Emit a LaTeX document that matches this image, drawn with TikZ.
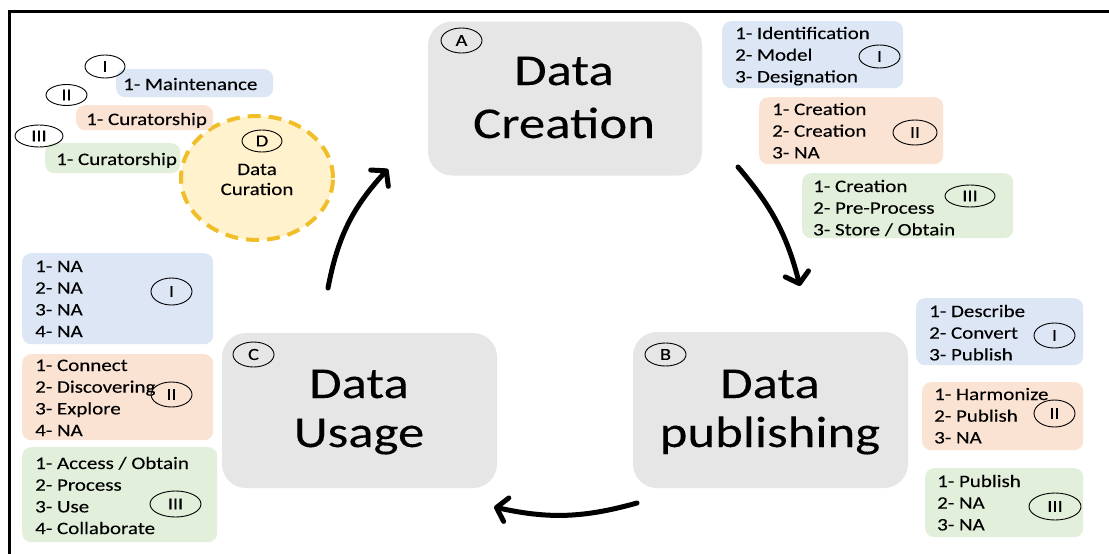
\documentclass[tikz,border=0pt]{standalone}
\usepackage{fontspec}
\setmainfont{Carlito}[FakeStretch=1.2, FakeBold=0.15]
\usetikzlibrary{shapes.geometric,arrows.meta}

\definecolor{stagegray}{HTML}{E6E6E6}
\definecolor{lblue}{HTML}{DCE6F4}
\definecolor{lsalmon}{HTML}{FBE3D4}
\definecolor{lgreen}{HTML}{E2EFDA}
\definecolor{curfill}{HTML}{FFF2CC}
\definecolor{curline}{HTML}{F0BE28}

% left-aligned list, baseline = first line
\newcommand\steplist[1]{\begin{tabular}[t]{@{}l@{}}#1\end{tabular}}
\newcommand\stagetitle[1]{\begin{tabular}[t]{@{}c@{}}#1\end{tabular}}

\tikzset{
  stage/.style={fill=stagegray, rounded corners=24pt, draw=none, inner sep=0pt},
  stagetext/.style={anchor=base, inner sep=0pt, font=\fontsize{44}{#1}\selectfont},
  bluebox/.style={fill=lblue, rounded corners=9pt, inner sep=0pt, anchor=north west},
  salmonbox/.style={fill=lsalmon, rounded corners=9pt, inner sep=0pt, anchor=north west},
  greenbox/.style={fill=lgreen, rounded corners=9pt, inner sep=0pt, anchor=north west},
  listtext/.style={anchor=base west, inner sep=0pt, font=\fontsize{17.5}{21.7}\selectfont},
  tag/.style={ellipse, draw=black, line width=0.9pt, inner sep=0pt,
    font=\fontsize{17}{17}\selectfont},
  cycle arrow/.style={line width=5pt, line cap=round,
    -{Straight Barb[length=10pt, width=24pt, round]}},
}

\begin{document}
\begin{tikzpicture}[x=1pt, y=-1pt]
\useasboundingbox[fill=white] (0,0) rectangle (1109,554);

% frame edges
\draw[line width=3pt] (9,554) -- (9,11) -- (1109,11);

% ---------- stages ----------
\node[stage, minimum width=274pt, minimum height=154pt] (create) at (565,98.5) {};
\node[stagetext=53] (createT) at (564,85) {\stagetitle{Data\\Creation}};
\node[tag, minimum width=41pt, minimum height=25pt] (tagA) at (461.5,40.5) {A};

\node[stage, minimum width=275pt, minimum height=156pt] (publish) at (770.5,410) {};
\node[stagetext=49] (publishT) at (770,398) {\stagetitle{Data\\publishing}};
\node[tag, minimum width=41pt, minimum height=23pt] (tagB) at (665.5,354.5) {B};

\node[stage, minimum width=275pt, minimum height=155pt] (usage) at (359.5,410.5) {};
\node[stagetext=49] (usageT) at (359,398) {\stagetitle{Data\\Usage}};
\node[tag, minimum width=41pt, minimum height=25pt] (tagC) at (253.5,354.5) {C};

% ---------- curation ----------
\node[ellipse, fill=curfill, draw=curline, line width=4pt,
  dash pattern=on 13pt off 8pt, minimum width=152pt, minimum height=124pt,
  inner sep=0pt] (curation) at (257,178) {};
\node[anchor=base, inner sep=0pt, font=\fontsize{17.5}{20}\selectfont]
  (curationT) at (257,175) {\stagetitle{Data\\Curation}};
\node[tag, minimum width=40pt, minimum height=22pt] (tagD) at (262,141) {D};

% ---------- curation steps (top left) ----------
\node[bluebox, minimum width=157pt, minimum height=28pt] (dI) at (116,69) {};
\node[listtext] (dIt) at (123,90) {1- Maintenance};
\node[tag, minimum width=40pt, minimum height=23pt] (dIe) at (105,66.5) {I};

\node[salmonbox, minimum width=137pt, minimum height=25pt] (dII) at (76,105) {};
\node[listtext] (dIIt) at (86,125) {1- Curatorship};
\node[tag, minimum width=41pt, minimum height=21pt] (dIIe) at (66.5,95) {II};

\node[greenbox, minimum width=135pt, minimum height=30pt] (dIII) at (45,143) {};
\node[listtext] (dIIIt) at (56,165) {1- Curatorship};
\node[tag, minimum width=48pt, minimum height=22pt] (dIIIe) at (39,136) {III};

% ---------- creation steps (top right) ----------
\node[bluebox, minimum width=181pt, minimum height=67pt] (aI) at (722,21) {};
\node[listtext] (aIt) at (735,39) {\steplist{1- Identification\\2- Model\\3- Designation}};
\node[tag, minimum width=41pt, minimum height=23pt] (aIe) at (879.5,56.5) {I};

\node[salmonbox, minimum width=184pt, minimum height=67pt] (aII) at (759,97) {};
\node[listtext] (aIIt) at (772,115) {\steplist{1- Creation\\2- Creation\\3- NA}};
\node[tag, minimum width=44pt, minimum height=25pt] (aIIe) at (915,132.5) {II};

\node[greenbox, minimum width=211pt, minimum height=65pt] (aIII) at (802,173) {};
\node[listtext] (aIIIt) at (813,192) {\steplist{1- Creation\\2- Pre-Process\\3- Store / Obtain}};
\node[tag, minimum width=50pt, minimum height=22pt] (aIIIe) at (970,196) {III};

% ---------- publishing steps (bottom right) ----------
\node[bluebox, minimum width=167pt, minimum height=67pt] (bI) at (916,298) {};
\node[listtext] (bIt) at (929,317) {\steplist{1- Describe\\2- Convert\\3- Publish}};
\node[tag, minimum width=41pt, minimum height=25pt] (bIe) at (1054.5,335.5) {I};

\node[salmonbox, minimum width=161pt, minimum height=68pt] (bII) at (922,382) {};
\node[listtext] (bIIt) at (934,400) {\steplist{1- Harmonize\\2- Publish\\3- NA}};
\node[tag, minimum width=41pt, minimum height=27pt] (bIIe) at (1054.5,413.5) {II};

\node[greenbox, minimum width=158pt, minimum height=69pt] (bIII) at (925,468) {};
\node[listtext] (bIIIt) at (937,487) {\steplist{1- Publish\\2- NA\\3- NA}};
\node[tag, minimum width=52pt, minimum height=27pt] (bIIIe) at (1055,506.5) {III};

% ---------- usage steps (bottom left) ----------
\node[bluebox, minimum width=191pt, minimum height=91pt] (cI) at (22,253) {};
\node[listtext] (cIt) at (35,272) {\steplist{1- NA\\2- NA\\3- NA\\4- NA}};
\node[tag, minimum width=41pt, minimum height=27pt] (cIe) at (171.5,291.5) {I};

\node[salmonbox, minimum width=191pt, minimum height=86pt] (cII) at (22,354) {};
\node[listtext] (cIIt) at (35,371) {\steplist{1- Connect\\2- Discovering\\3- Explore\\4- NA}};
\node[tag, minimum width=41pt, minimum height=25pt] (cIIe) at (171.5,394.5) {II};

\node[greenbox, minimum width=195pt, minimum height=95pt] (cIII) at (22,447) {};
\node[listtext] (cIIIt) at (35,469) {\steplist{1- Access / Obtain\\2- Process\\3- Use\\4- Collaborate}};
\node[tag, minimum width=51pt, minimum height=26pt] (cIIIe) at (175.5,504) {III};

% ---------- cycle arrows ----------
\coordinate (fromUsage) at (328,288);
\coordinate (toCreate) at (388,169);
\coordinate (fromCreate) at (738,167);
\coordinate (toPublish) at (800,286);
\coordinate (fromPublish) at (637,503);
\coordinate (toUsage) at (494,507);

\draw[cycle arrow] (fromUsage) to[bend left=16] (toCreate);
\draw[cycle arrow] (fromCreate) to[bend left=13] (toPublish);
\draw[cycle arrow] (fromPublish) to[bend left=14] (toUsage);
\end{tikzpicture}
\end{document}
